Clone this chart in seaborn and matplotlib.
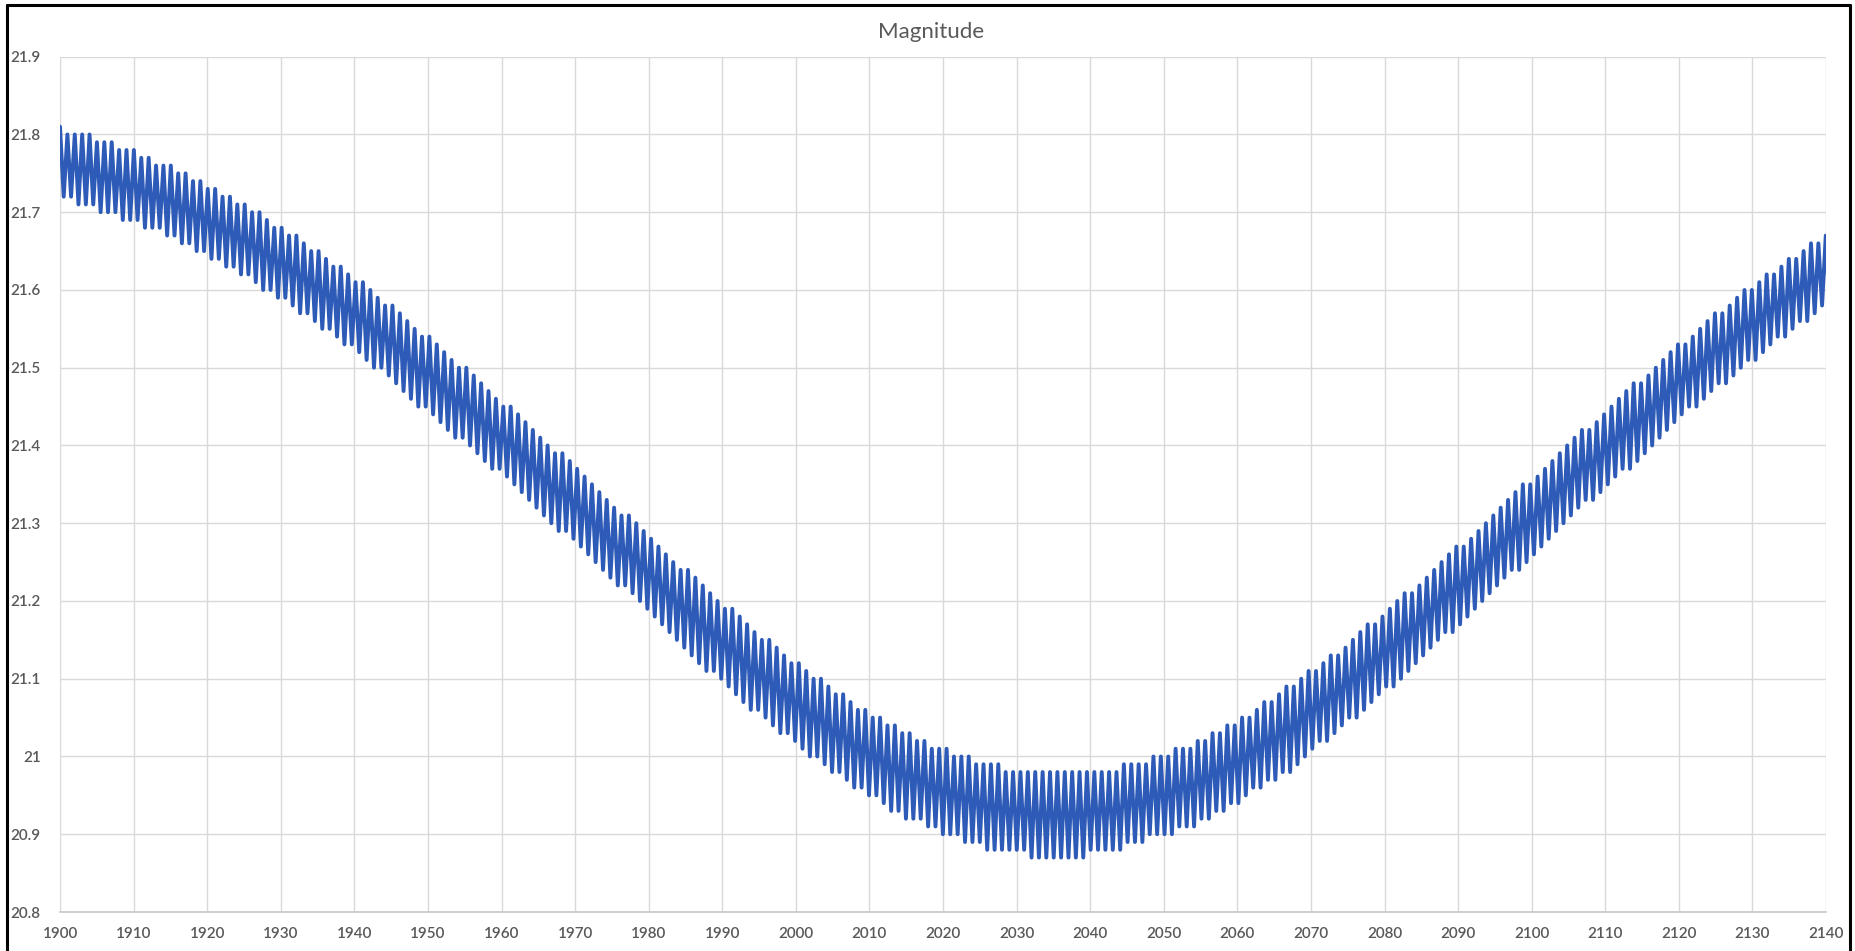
import numpy as np
import pandas as pd
import matplotlib
matplotlib.use("Agg")
import matplotlib.pyplot as plt
from matplotlib.lines import Line2D
import seaborn as sns

# ---------------- data ----------------
title = "Magnitude"
x_ticks = list(range(1900, 2141, 10))
y_ticks = [20.8, 20.9, 21.0, 21.1, 21.2, 21.3, 21.4, 21.5, 21.6, 21.7, 21.8, 21.9]
y_tick_labels = ["20.8", "20.9", "21", "21.1", "21.2", "21.3", "21.4", "21.5",
                 "21.6", "21.7", "21.8", "21.9"]

# synodic period of the yearly brightness cycle (years) and the first maximum
synodic_period = 1.00405
first_max_year = 1900.0

# yearly maxima of magnitude (one per cycle), one row per decade 1900..2130
peak_mag = [
    21.81, 21.80, 21.80, 21.80, 21.80, 21.79, 21.79, 21.79, 21.78, 21.78,
    21.78, 21.77, 21.77, 21.76, 21.76, 21.76, 21.75, 21.75, 21.74, 21.74,
    21.73, 21.73, 21.72, 21.72, 21.71, 21.71, 21.70, 21.70, 21.69, 21.68,
    21.68, 21.67, 21.67, 21.66, 21.65, 21.65, 21.64, 21.63, 21.63, 21.62,
    21.61, 21.61, 21.60, 21.59, 21.58, 21.58, 21.57, 21.56, 21.55, 21.54,
    21.54, 21.53, 21.52, 21.51, 21.50, 21.50, 21.49, 21.48, 21.47, 21.46,
    21.45, 21.45, 21.44, 21.43, 21.42, 21.41, 21.40, 21.39, 21.39, 21.38,
    21.37, 21.36, 21.35, 21.34, 21.33, 21.32, 21.31, 21.31, 21.30, 21.29,
    21.28, 21.27, 21.26, 21.25, 21.24, 21.24, 21.23, 21.22, 21.21, 21.20,
    21.19, 21.19, 21.18, 21.17, 21.16, 21.15, 21.15, 21.14, 21.13, 21.12,
    21.12, 21.11, 21.10, 21.10, 21.09, 21.08, 21.08, 21.07, 21.06, 21.06,
    21.05, 21.05, 21.04, 21.04, 21.03, 21.03, 21.02, 21.02, 21.01, 21.01,
    21.01, 21.00, 21.00, 21.00, 20.99, 20.99, 20.99, 20.99, 20.98, 20.98,
    20.98, 20.98, 20.98, 20.98, 20.98, 20.98, 20.98, 20.98, 20.98, 20.98,
    20.98, 20.98, 20.98, 20.98, 20.99, 20.99, 20.99, 20.99, 21.00, 21.00,
    21.00, 21.01, 21.01, 21.01, 21.02, 21.02, 21.03, 21.03, 21.04, 21.04,
    21.05, 21.05, 21.06, 21.07, 21.07, 21.08, 21.09, 21.09, 21.10, 21.11,
    21.11, 21.12, 21.13, 21.13, 21.14, 21.15, 21.16, 21.17, 21.17, 21.18,
    21.19, 21.20, 21.21, 21.21, 21.22, 21.23, 21.24, 21.25, 21.26, 21.27,
    21.27, 21.28, 21.29, 21.30, 21.31, 21.32, 21.33, 21.34, 21.35, 21.35,
    21.36, 21.37, 21.38, 21.39, 21.40, 21.41, 21.42, 21.42, 21.43, 21.44,
    21.45, 21.46, 21.47, 21.48, 21.48, 21.49, 21.50, 21.51, 21.52, 21.53,
    21.53, 21.54, 21.55, 21.56, 21.57, 21.57, 21.58, 21.59, 21.60, 21.60,
    21.61, 21.62, 21.62, 21.63, 21.64, 21.64, 21.65, 21.66, 21.66, 21.67,
]

# yearly minima of magnitude (half a cycle after each maximum)
trough_mag = [
    21.72, 21.72, 21.71, 21.71, 21.71, 21.70, 21.70, 21.70, 21.69, 21.69,
    21.69, 21.68, 21.68, 21.68, 21.67, 21.67, 21.66, 21.66, 21.65, 21.65,
    21.64, 21.64, 21.63, 21.63, 21.62, 21.62, 21.61, 21.60, 21.60, 21.59,
    21.59, 21.58, 21.57, 21.57, 21.56, 21.55, 21.55, 21.54, 21.53, 21.53,
    21.52, 21.51, 21.50, 21.50, 21.49, 21.48, 21.47, 21.46, 21.45, 21.45,
    21.44, 21.43, 21.42, 21.41, 21.41, 21.40, 21.39, 21.38, 21.37, 21.37,
    21.36, 21.35, 21.34, 21.33, 21.32, 21.31, 21.30, 21.29, 21.29, 21.28,
    21.27, 21.26, 21.25, 21.24, 21.23, 21.22, 21.22, 21.21, 21.20, 21.19,
    21.18, 21.17, 21.16, 21.15, 21.14, 21.13, 21.12, 21.11, 21.11, 21.10,
    21.09, 21.08, 21.07, 21.06, 21.06, 21.05, 21.04, 21.03, 21.03, 21.02,
    21.01, 21.00, 21.00, 20.99, 20.98, 20.98, 20.97, 20.96, 20.96, 20.95,
    20.95, 20.94, 20.93, 20.93, 20.92, 20.92, 20.92, 20.91, 20.91, 20.90,
    20.90, 20.90, 20.89, 20.89, 20.89, 20.88, 20.88, 20.88, 20.88, 20.88,
    20.88, 20.87, 20.87, 20.87, 20.87, 20.87, 20.87, 20.87, 20.87, 20.88,
    20.88, 20.88, 20.88, 20.88, 20.89, 20.89, 20.89, 20.90, 20.90, 20.90,
    20.90, 20.91, 20.91, 20.91, 20.92, 20.92, 20.93, 20.93, 20.94, 20.94,
    20.95, 20.96, 20.96, 20.97, 20.97, 20.98, 20.98, 20.99, 21.00, 21.01,
    21.02, 21.02, 21.03, 21.04, 21.05, 21.05, 21.06, 21.07, 21.08, 21.09,
    21.09, 21.10, 21.11, 21.12, 21.13, 21.14, 21.15, 21.16, 21.16, 21.17,
    21.18, 21.19, 21.20, 21.21, 21.22, 21.23, 21.24, 21.24, 21.25, 21.26,
    21.27, 21.28, 21.29, 21.30, 21.31, 21.32, 21.33, 21.33, 21.34, 21.35,
    21.36, 21.37, 21.37, 21.38, 21.39, 21.40, 21.41, 21.42, 21.43, 21.44,
    21.45, 21.45, 21.46, 21.47, 21.48, 21.48, 21.49, 21.50, 21.51, 21.51,
    21.52, 21.53, 21.54, 21.54, 21.55, 21.56, 21.56, 21.57, 21.58, 21.58,
]

# ---------------- build the series ----------------
n = min(len(peak_mag), len(trough_mag))
cycle = np.arange(n)
peak_year = first_max_year + cycle * synodic_period
trough_year = peak_year + synodic_period / 2.0
years = np.empty(2 * n)
mags = np.empty(2 * n)
years[0::2] = peak_year
years[1::2] = trough_year
mags[0::2] = np.array(peak_mag[:n])
mags[1::2] = np.array(trough_mag[:n])
df = pd.DataFrame({"year": years, "magnitude": mags})

# ---------------- plot ----------------
sns.set_theme(style="white")
plt.rcParams["font.family"] = ["Lato", "DejaVu Sans"]

W, H = 1855, 951
fig = plt.figure(figsize=(W / 100, H / 100), dpi=100)
fig.patch.set_facecolor("white")
ax = fig.add_axes([60 / W, 1 - 912 / H, (1826 - 60) / W, (912 - 56.7) / H])

sns.lineplot(data=df, x="year", y="magnitude", ax=ax, sort=False,
             estimator=None, color="#2E5BB8", linewidth=2.8, zorder=3)

ax.set_xlim(1900, 2140)
ax.set_ylim(20.8, 21.9)
ax.set_xticks(x_ticks)
ax.set_xticklabels([str(t) for t in x_ticks])
ax.set_yticks(y_ticks)
ax.set_yticklabels(y_tick_labels)
ax.grid(True, color="#D9D9D9", linewidth=1.0)
ax.set_axisbelow(True)
for side in ["top", "right", "left"]:
    ax.spines[side].set_visible(False)
ax.spines["bottom"].set_color("#C8C8C8")
ax.spines["bottom"].set_linewidth(1.2)
ax.tick_params(axis="both", length=0, colors="#595959", labelsize=11)
ax.tick_params(axis="x", pad=11)
ax.tick_params(axis="y", pad=14)
ax.set_xlabel("")
ax.set_ylabel("")
for lbl in ax.get_xticklabels() + ax.get_yticklabels():
    lbl.set_fontweight("semibold")
    lbl.set_color("#595959")

fig.text(931 / W, 1 - 32 / H, title, ha="center", va="center",
         fontsize=16, color="#595959")

# chart-area frame (left, top, right edges as in the screenshot)
frame_kw = dict(color="black", linewidth=2.2, transform=fig.transFigure)
fig.add_artist(Line2D([7 / W, 7 / W], [0, 1 - 5 / H], **frame_kw))
fig.add_artist(Line2D([7 / W, 1850 / W], [1 - 5 / H, 1 - 5 / H], **frame_kw))
fig.add_artist(Line2D([1850 / W, 1850 / W], [0, 1 - 5 / H], **frame_kw))

fig.savefig("out.png", dpi=100, facecolor="white")
